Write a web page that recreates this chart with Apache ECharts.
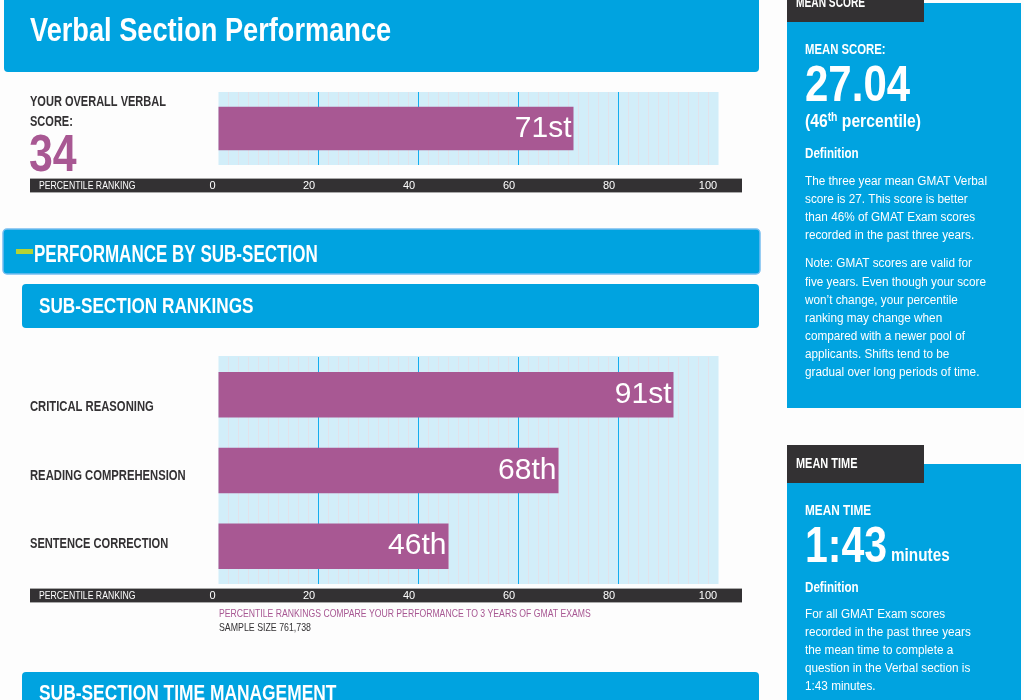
<!DOCTYPE html>
<html>
<head>
<meta charset="utf-8">
<style>
html, body { margin: 0; padding: 0; background: #fdfdfd; }
#main { width: 1024px; height: 700px; overflow: hidden; }
</style>
<script src="https://cdn.jsdelivr.net/npm/echarts@6/dist/echarts.min.js"></script>
</head>
<body>
<div id="main"></div>
<script>
// chart values
const overallCategories = ['Overall Verbal'];
const overallValues = [71];
const overallLabels = ['71st'];
const sectionCategories = ['Critical Reasoning', 'Reading Comprehension', 'Sentence Correction'];
const sectionValues = [91, 68, 46];
const sectionLabels = ['91st', '68th', '46th'];
const scoreNotes = [
	'The three year mean GMAT Verbal',
	'score is 27. This score is better',
	'than 46% of GMAT Exam scores',
	'recorded in the past three years.'
];
const shiftNotes = [
	'Note: GMAT scores are valid for',
	'five years. Even though your score',
	'won\u2019t change, your percentile',
	'ranking may change when',
	'compared with a newer pool of',
	'applicants. Shifts tend to be',
	'gradual over long periods of time.'
];
const timeNotes = [
	'For all GMAT Exam scores',
	'recorded in the past three years',
	'the mean time to complete a',
	'question in the Verbal section is',
	'1:43 minutes.'
];

const BLUE = '#00a3e0', DARK = '#333133', PURPLE = '#a85893', WHITE = '#ffffff';
const PLAIN = '"Liberation Sans", sans-serif';

let elements = [];

function panel(x, y, w, h, fill, radius, border) {
	elements.push({
		type: 'rect', z: -10, silent: true,
		shape: { x: x, y: y, width: w, height: h, r: radius || 0 },
		style: { fill: fill, stroke: border || null, lineWidth: border ? 1.5 : 0 }
	});
}

// the original face is a condensed one, so the text is squeezed with scaleX
function label(text, x, y, size, color, scaleX, weight) {
	elements.push({
		type: 'text', z: 5, silent: true, x: x, y: y, scaleX: scaleX,
		style: {
			text: text, fill: color,
			font: (weight || 'bold') + ' ' + size + 'px ' + PLAIN,
			verticalAlign: 'middle'
		}
	});
}

function rankingBand(y) {
	panel(30, y, 712, 15, '#a9a9a9');
	panel(30, y + 1, 712, 13, DARK);
	label('PERCENTILE RANKING', 39, y + 8, 10.5, WHITE, 0.826, 'normal');
}

function textLines(lines, x, y) {
	lines.forEach(function (line, i) {
		label(line, x, y + i * 18.1, 12.5, WHITE, 0.94, 'normal');
	});
}

// header panels
panel(4, -6, 755, 78, BLUE, 4);
label('Verbal Section Performance', 30, 32, 33, WHITE, 0.824);
panel(3, 229, 757, 45, BLUE, 4, '#77bdf0');
panel(16, 249, 17, 5, '#b5d334');
label('PERFORMANCE BY SUB-SECTION', 34, 256, 23, WHITE, 0.74);
panel(22, 284, 737, 44, BLUE, 4);
label('SUB-SECTION RANKINGS', 39, 307, 22, WHITE, 0.78);
panel(22, 672, 737, 40, BLUE, 4);
label('SUB-SECTION TIME MANAGEMENT', 39, 694, 22, WHITE, 0.79);

// left labels
label('YOUR OVERALL VERBAL', 30, 102, 15, DARK, 0.735);
label('SCORE:', 30, 122, 15, DARK, 0.735);
label('34', 29, 157, 51, PURPLE, 0.84);
label('CRITICAL REASONING', 30, 407, 15, DARK, 0.75);
label('READING COMPREHENSION', 30, 476, 15, DARK, 0.75);
label('SENTENCE CORRECTION', 30, 544, 15, DARK, 0.74);
rankingBand(178);
rankingBand(588);
label('PERCENTILE RANKINGS COMPARE YOUR PERFORMANCE TO 3 YEARS OF GMAT EXAMS', 219, 613.5, 11, PURPLE, 0.787, 'normal');
label('SAMPLE SIZE 761,738', 219, 627.5, 11, DARK, 0.8, 'normal');

// sidebar: mean score
panel(787, 3, 234, 405, BLUE);
panel(787, -10, 137, 32, DARK);
label('MEAN SCORE', 796, 3, 15, WHITE, 0.68);
label('MEAN SCORE:', 805, 50, 15.5, WHITE, 0.73);
label('27.04', 805, 87, 50, WHITE, 0.84);
elements.push({
	type: 'text', z: 5, silent: true, x: 805, y: 122, scaleX: 0.87,
	style: {
		text: '{m|(46}{s|th}{m| percentile)}',
		verticalAlign: 'middle',
		rich: {
			m: { fill: WHITE, font: 'bold 18px ' + PLAIN },
			s: { fill: WHITE, font: 'bold 12px ' + PLAIN, padding: [0, 0, 9, 0] }
		}
	}
});
label('Definition', 805, 154, 14, WHITE, 0.83);
textLines(scoreNotes, 805, 181.5);
textLines(shiftNotes, 805, 264);

// sidebar: mean time
panel(787, 464, 234, 250, BLUE);
panel(787, 445, 137, 38, DARK);
label('MEAN TIME', 796, 464, 15, WHITE, 0.73);
label('MEAN TIME', 805, 511, 15.5, WHITE, 0.76);
label('1:43', 805, 548, 50, WHITE, 0.82);
label('minutes', 891, 556, 18, WHITE, 0.85);
label('Definition', 805, 588, 14, WHITE, 0.83);
textLines(timeNotes, 805, 614.5);

// tick labels are offset to the left of their gridlines in the reference
function tickText(value) {
	if (value === 0) return '{first|0}';
	if (value === 100) return '{last|100}';
	return '{mid|' + value + '}';
}
const tickRich = {
	first: { color: WHITE, fontSize: 11, fontFamily: PLAIN, padding: [0, 12, 0, 0] },
	mid: { color: WHITE, fontSize: 11, fontFamily: PLAIN, padding: [0, 19, 0, 0] },
	last: { color: WHITE, fontSize: 11, fontFamily: PLAIN, padding: [0, 21, 0, 0] }
};

function valueAxis(gridIndex, margin) {
	return {
		type: 'value', gridIndex: gridIndex, min: 0, max: 100, interval: 20,
		minorTick: { show: false, splitNumber: 10 },
		minorSplitLine: { show: true, lineStyle: { color: '#e2e1ea', width: 1 } },
		splitLine: { show: true, showMinLine: false, showMaxLine: false, lineStyle: { color: '#12aef0', width: 1 } },
		axisLine: { show: false },
		axisTick: { show: false },
		axisLabel: { margin: margin, formatter: tickText, rich: tickRich }
	};
}

function categoryAxis(gridIndex, data) {
	return {
		type: 'category', gridIndex: gridIndex, data: data, inverse: true,
		axisLine: { show: false }, axisTick: { show: false }, axisLabel: { show: false }
	};
}

function barSeries(index, values, labels, width) {
	return {
		type: 'bar', xAxisIndex: index, yAxisIndex: index, data: values,
		barWidth: width, silent: true,
		itemStyle: { color: PURPLE },
		label: {
			show: true, position: 'insideRight', distance: 2,
			color: WHITE, fontSize: 30, fontFamily: PLAIN,
			formatter: function (p) { return labels[p.dataIndex]; }
		}
	};
}

// top strip of the lower plot, the bars sit 1px lower than its band centres
panel(218.5, 356, 500, 1, '#d2eef9');

let chart = echarts.init(document.getElementById('main'), null, { renderer: 'canvas' });
chart.setOption({
	animation: false,
	backgroundColor: '#fdfdfd',
	graphic: { elements: elements },
	grid: [
		{ left: 218.5, width: 500, top: 92, height: 73, show: true, backgroundColor: '#d2eef9', borderWidth: 0 },
		{ left: 218.5, width: 500, top: 357, height: 227, show: true, backgroundColor: '#d2eef9', borderWidth: 0 }
	],
	xAxis: [valueAxis(0, 15), valueAxis(1, 6)],
	yAxis: [categoryAxis(0, overallCategories), categoryAxis(1, sectionCategories)],
	series: [
		barSeries(0, overallValues, overallLabels, 43.5),
		barSeries(1, sectionValues, sectionLabels, 45.5)
	]
});
</script>
</body>
</html>
